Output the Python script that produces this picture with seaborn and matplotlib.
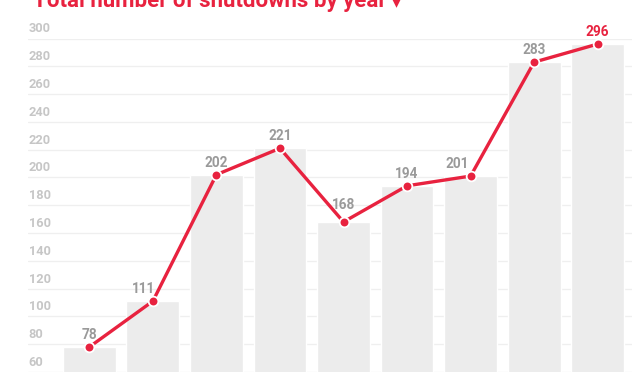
import matplotlib
matplotlib.use("Agg")
import matplotlib.pyplot as plt
import matplotlib.transforms as mtransforms
import seaborn as sns

# data
years = ["2016", "2017", "2018", "2019", "2020", "2021", "2022", "2023", "2024"]
shutdowns = [78, 111, 202, 221, 168, 194, 201, 283, 296]
y_ticks = [60, 80, 100, 120, 140, 160, 180, 200, 220, 240, 260, 280, 300]
title = "Total number of shutdowns by year"

RED = "#e8223f"
BAR = "#ececec"
GRID = "#efefef"
TICK = "#c6c6c6"
LABEL = "#9a9a9a"

sns.set_theme(style="white")
plt.rcParams["font.family"] = ["Roboto", "DejaVu Sans"]

fig = plt.figure(figsize=(6.4, 3.75), dpi=100)
ax = fig.add_axes([28 / 640, 1 - 372 / 375, 604 / 640, (372 - 38.5) / 375])

sns.barplot(x=years, y=shutdowns, color=BAR, width=0.83, saturation=1, ax=ax, zorder=2)
sns.pointplot(x=years, y=shutdowns, color=RED, errorbar=None, markers="o",
              markersize=7, markeredgecolor="white", markeredgewidth=1.3,
              linewidth=2.4, ax=ax, zorder=4)

ax.set_ylim(60, 300)
ax.set_xlim(-0.965, 8.54)
for v in y_ticks:
    ax.axhline(v, color=GRID, lw=0.9, zorder=1)

ax.set_xticks([])
ax.set_yticks([])
ax.set_xlabel("")
ax.set_ylabel("")
sns.despine(ax=ax, left=True, bottom=True)

# y tick labels sit above the gridlines
trans = mtransforms.blended_transform_factory(ax.transAxes, ax.transData)
trans = mtransforms.offset_copy(trans, fig=fig, x=0, y=3, units="dots")
for v in y_ticks:
    ax.text(0.001, v, str(v), transform=trans, ha="left", va="bottom",
            fontsize=9.2, fontweight="bold", color=TICK, clip_on=False)

# value labels, nudged so they clear the line
for i, v in enumerate(shutdowns):
    dx = {1: -7, 6: -10}.get(i, 0)
    dy = 7.5 if i == 4 else 3.5
    col = RED if i == len(shutdowns) - 1 else LABEL
    ax.annotate(str(v), (i, v), xytext=(dx, dy), textcoords="offset points",
                ha="center", va="bottom", fontsize=9.8, fontweight="bold",
                color=col, zorder=5, annotation_clip=False)

fig.text(33 / 640, 1 - 7 / 375, title, ha="left", va="baseline",
         fontsize=16, fontweight="bold", color=RED)
fig.text(396 / 640, 1 - 7 / 375, "\u25be", ha="center", va="baseline",
         fontsize=13, color=RED, family="DejaVu Sans")

fig.savefig("out.png", dpi=100)
